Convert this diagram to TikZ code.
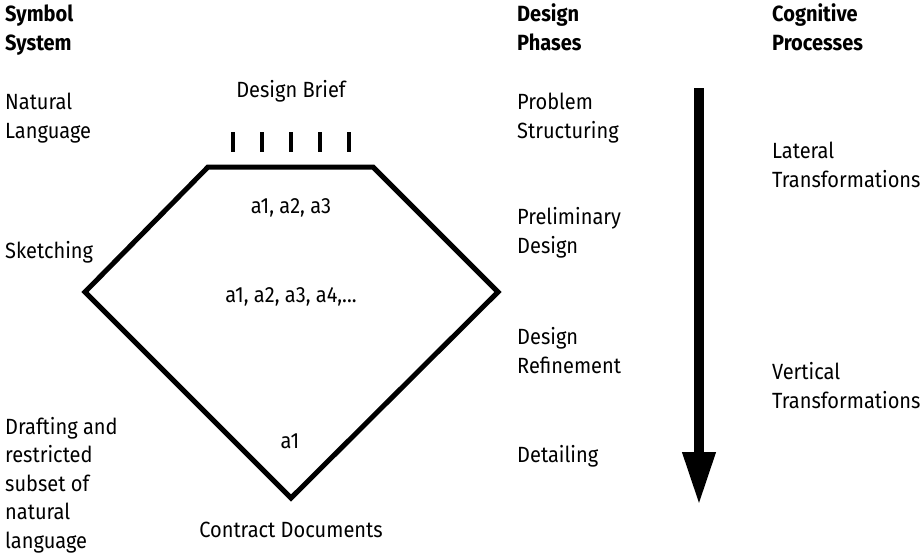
\documentclass[tikz,border=0pt]{standalone}
\usepackage{fontspec}
\setmainfont{Fira Sans}[FakeStretch=0.91]
\usepackage{tikz}
\usetikzlibrary{arrows.meta,positioning}
\tikzstyle{columntitle} = [font=\bfseries\fontsize{22}{28.5}\selectfont, align=left, anchor=base west, inner sep=0pt]
\tikzstyle{plaintext} = [font=\fontsize{22}{28.5}\selectfont, align=left, anchor=base west, inner sep=0pt]
\tikzstyle{centertext} = [font=\fontsize{22}{28.5}\selectfont, anchor=base, inner sep=0pt]
\tikzstyle{outline} = [line width=5pt, line join=miter]
\tikzstyle{tick} = [line width=3.5pt]
\tikzstyle{flow} = [line width=10pt, -{Triangle[width=31pt,length=53pt]}]

\begin{document}
\begin{tikzpicture}[x=1pt,y=1pt]
					\useasboundingbox (0,0) rectangle (922,-554);
					% column titles (placed by the baseline of their last line)
					\node[columntitle] (symtitle) at (5,-50) {Symbol\\System};
					\node[columntitle] (phasetitle) at (517,-50) {Design\\Phases};
					\node[columntitle] (cogtitle) at (772,-50) {Cognitive\\Processes};
					% symbol systems
					\node[plaintext] (natlang) at (5,-138) {Natural\\Language};
					\node[plaintext] (sketching) at (5,-258) {Sketching};
					\node[plaintext] (drafting) at (5,-548) {Drafting and\\restricted\\subset of\\natural\\language};
					% design phases
					\node[plaintext] (probstruct) at (517,-138) {Problem\\Structuring};
					\node[plaintext] (prelim) at (517,-253) {Preliminary\\Design};
					\node[plaintext] (refine) at (517,-373) {Design\\Refinement};
					\node[plaintext] (detail) at (517,-462) {Detailing};
					% cognitive processes
					\node[plaintext] (lateral) at (772,-187) {Lateral\\Transformations};
					\node[plaintext] (vertical) at (772,-408) {Vertical\\Transformations};
					% the funnel
					\node[centertext] (brief) at (291,-97) {Design Brief};
					\foreach \x in {233,262,291,320,349}
						\draw[tick] (\x,-132) -- (\x,-152);
					\draw[outline] (208,-167) -- (373,-167) -- (498,-292) -- (291,-498) -- (85,-292) -- cycle;
					\node[centertext] (alts1) at (291,-213) {a1, a2, a3};
					\node[centertext] (alts2) at (291,-302) {a1, a2, a3, a4,...};
					\node[centertext] (alts3) at (290,-448) {a1};
					\node[centertext] (contract) at (291,-537) {Contract Documents};
					% time arrow
					\coordinate (arrtop) at (699,-88);
					\coordinate (arrtip) at (699,-505);
					\draw[flow] (arrtop) -- (arrtip);
\end{tikzpicture}
\end{document}
